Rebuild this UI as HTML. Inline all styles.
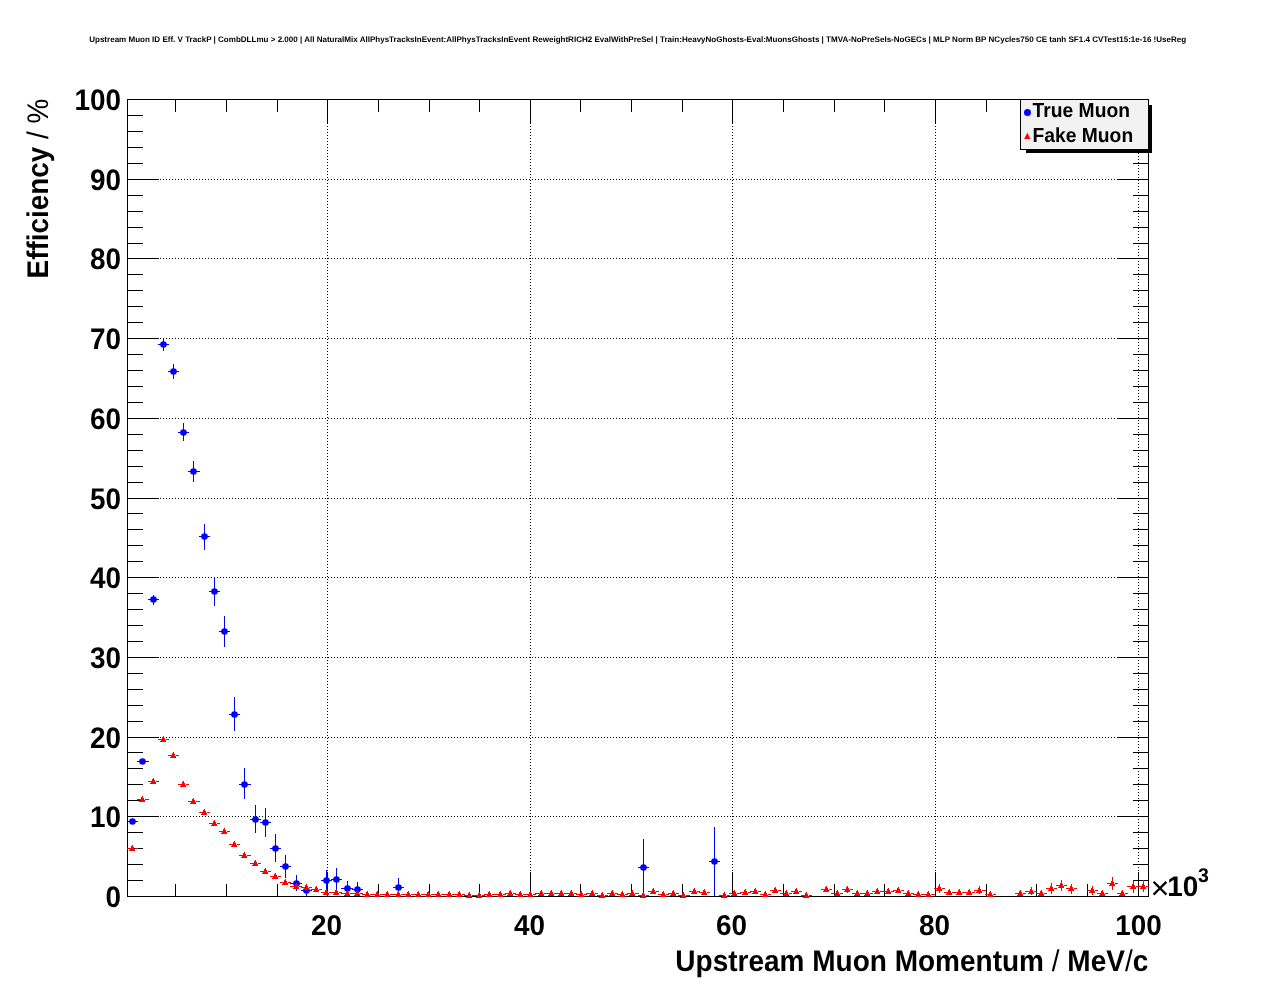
<!DOCTYPE html>
<html><head><meta charset="utf-8"><title>Upstream Muon ID Eff. V TrackP</title>
<style>
html,body{margin:0;padding:0;background:#fff;}
body{width:1276px;height:996px;overflow:hidden;}
svg{display:block;}
text{font-family:"Liberation Sans",sans-serif;font-weight:bold;fill:#000;text-rendering:geometricPrecision;}
.n{font-weight:normal;}
.px{shape-rendering:crispEdges;}
.gr{stroke:#000;stroke-width:1;stroke-dasharray:1 2;shape-rendering:crispEdges;fill:none;}
</style></head><body>
<svg width="1276" height="996" viewBox="0 0 1276 996">
<rect x="0" y="0" width="1276" height="996" fill="#ffffff"/>
<text x="89.2" y="41.8" font-size="8.05" textLength="1097" lengthAdjust="spacingAndGlyphs">Upstream Muon ID Eff. V TrackP | CombDLLmu &gt; 2.000 | All NaturalMix AllPhysTracksInEvent:AllPhysTracksInEvent ReweightRICH2 EvalWithPreSel | Train:HeavyNoGhosts-Eval:MuonsGhosts | TMVA-NoPreSels-NoGECs | MLP Norm BP NCycles750 CE tanh SF1.4 CVTest15:1e-16 !UseReg</text>
<path class="gr" d="M327.5 99V897M530.5 99V897M732.5 99V897M935.5 99V897M1138.5 99V897M127 816.5H1149M127 737.5H1149M127 657.5H1149M127 577.5H1149M127 498.5H1149M127 418.5H1149M127 338.5H1149M127 258.5H1149M127 179.5H1149"/>
<path class="px" fill="#0000ff" d="M127 821h11v1h-11zM137 761h12v1h-12zM148 599h11v1h-11zM153 595h1v10h-1zM158 344h11v1h-11zM163 338h1v13h-1zM168 371h11v1h-11zM173 364h1v15h-1zM178 432h11v1h-11zM183 423h1v18h-1zM188 471h12v1h-12zM193 461h1v21h-1zM199 536h11v1h-11zM204 524h1v26h-1zM209 591h11v1h-11zM214 577h1v29h-1zM219 631h11v1h-11zM224 616h1v31h-1zM229 714h11v1h-11zM234 697h1v34h-1zM239 784h12v1h-12zM244 768h1v31h-1zM250 819h11v1h-11zM255 805h1v28h-1zM260 822h11v1h-11zM265 808h1v29h-1zM270 848h11v1h-11zM275 834h1v28h-1zM280 866h11v1h-11zM285 855h1v23h-1zM290 883h12v1h-12zM296 875h1v16h-1zM301 890h11v1h-11zM306 885h1v12h-1zM321 880h11v1h-11zM326 870h1v23h-1zM331 879h11v1h-11zM336 868h1v25h-1zM341 888h12v1h-12zM347 881h1v14h-1zM352 889h11v1h-11zM357 882h1v13h-1zM393 887h11v1h-11zM398 878h1v17h-1zM638 867h11v1h-11zM643 839h1v57h-1zM709 861h11v1h-11zM714 827h1v70h-1z"/>
<g fill="#0000ff"><circle cx="132.5" cy="821.5" r="3.3"/><circle cx="142.5" cy="761.5" r="3.3"/><circle cx="153.5" cy="599.5" r="3.3"/><circle cx="163.5" cy="344.5" r="3.3"/><circle cx="173.5" cy="371.5" r="3.3"/><circle cx="183.5" cy="432.5" r="3.3"/><circle cx="193.5" cy="471.5" r="3.3"/><circle cx="204.5" cy="536.5" r="3.3"/><circle cx="214.5" cy="591.5" r="3.3"/><circle cx="224.5" cy="631.5" r="3.3"/><circle cx="234.5" cy="714.5" r="3.3"/><circle cx="244.5" cy="784.5" r="3.3"/><circle cx="255.5" cy="819.5" r="3.3"/><circle cx="265.5" cy="822.5" r="3.3"/><circle cx="275.5" cy="848.5" r="3.3"/><circle cx="285.5" cy="866.5" r="3.3"/><circle cx="296.5" cy="883.5" r="3.3"/><circle cx="306.5" cy="890.5" r="3.3"/><circle cx="326.5" cy="880.5" r="3.3"/><circle cx="336.5" cy="879.5" r="3.3"/><circle cx="347.5" cy="888.5" r="3.3"/><circle cx="357.5" cy="889.5" r="3.3"/><circle cx="398.5" cy="887.5" r="3.3"/><circle cx="643.5" cy="867.5" r="3.3"/><circle cx="714.5" cy="861.5" r="3.3"/></g>
<path class="px" fill="#000" d="M127 99h1022v1h-1022zM127 896h1022v1h-1022zM127 99h1v798h-1zM1148 99h1v798h-1zM175 884h1v13h-1zM175 99h1v13h-1zM226 884h1v13h-1zM226 99h1v13h-1zM277 884h1v13h-1zM277 99h1v13h-1zM327 872h1v25h-1zM327 99h1v25h-1zM378 884h1v13h-1zM378 99h1v13h-1zM429 884h1v13h-1zM429 99h1v13h-1zM479 884h1v13h-1zM479 99h1v13h-1zM530 872h1v25h-1zM530 99h1v25h-1zM580 884h1v13h-1zM580 99h1v13h-1zM631 884h1v13h-1zM631 99h1v13h-1zM682 884h1v13h-1zM682 99h1v13h-1zM732 872h1v25h-1zM732 99h1v25h-1zM783 884h1v13h-1zM783 99h1v13h-1zM834 884h1v13h-1zM834 99h1v13h-1zM884 884h1v13h-1zM884 99h1v13h-1zM935 872h1v25h-1zM935 99h1v25h-1zM986 884h1v13h-1zM986 99h1v13h-1zM1036 884h1v13h-1zM1036 99h1v13h-1zM1087 884h1v13h-1zM1087 99h1v13h-1zM1138 872h1v25h-1zM1138 99h1v25h-1zM127 880h16v1h-16zM1133 880h16v1h-16zM127 864h16v1h-16zM1133 864h16v1h-16zM127 848h16v1h-16zM1133 848h16v1h-16zM127 832h16v1h-16zM1133 832h16v1h-16zM127 816h32v1h-32zM1117 816h32v1h-32zM127 800h16v1h-16zM1133 800h16v1h-16zM127 784h16v1h-16zM1133 784h16v1h-16zM127 768h16v1h-16zM1133 768h16v1h-16zM127 752h16v1h-16zM1133 752h16v1h-16zM127 737h32v1h-32zM1117 737h32v1h-32zM127 721h16v1h-16zM1133 721h16v1h-16zM127 705h16v1h-16zM1133 705h16v1h-16zM127 689h16v1h-16zM1133 689h16v1h-16zM127 673h16v1h-16zM1133 673h16v1h-16zM127 657h32v1h-32zM1117 657h32v1h-32zM127 641h16v1h-16zM1133 641h16v1h-16zM127 625h16v1h-16zM1133 625h16v1h-16zM127 609h16v1h-16zM1133 609h16v1h-16zM127 593h16v1h-16zM1133 593h16v1h-16zM127 577h32v1h-32zM1117 577h32v1h-32zM127 561h16v1h-16zM1133 561h16v1h-16zM127 545h16v1h-16zM1133 545h16v1h-16zM127 529h16v1h-16zM1133 529h16v1h-16zM127 513h16v1h-16zM1133 513h16v1h-16zM127 498h32v1h-32zM1117 498h32v1h-32zM127 482h16v1h-16zM1133 482h16v1h-16zM127 466h16v1h-16zM1133 466h16v1h-16zM127 450h16v1h-16zM1133 450h16v1h-16zM127 434h16v1h-16zM1133 434h16v1h-16zM127 418h32v1h-32zM1117 418h32v1h-32zM127 402h16v1h-16zM1133 402h16v1h-16zM127 386h16v1h-16zM1133 386h16v1h-16zM127 370h16v1h-16zM1133 370h16v1h-16zM127 354h16v1h-16zM1133 354h16v1h-16zM127 338h32v1h-32zM1117 338h32v1h-32zM127 322h16v1h-16zM1133 322h16v1h-16zM127 306h16v1h-16zM1133 306h16v1h-16zM127 290h16v1h-16zM1133 290h16v1h-16zM127 274h16v1h-16zM1133 274h16v1h-16zM127 258h32v1h-32zM1117 258h32v1h-32zM127 243h16v1h-16zM1133 243h16v1h-16zM127 227h16v1h-16zM1133 227h16v1h-16zM127 211h16v1h-16zM1133 211h16v1h-16zM127 195h16v1h-16zM1133 195h16v1h-16zM127 179h32v1h-32zM1117 179h32v1h-32zM127 163h16v1h-16zM1133 163h16v1h-16zM127 147h16v1h-16zM1133 147h16v1h-16zM127 131h16v1h-16zM1133 131h16v1h-16zM127 115h16v1h-16zM1133 115h16v1h-16z"/>
<path class="px" fill="#ff0000" d="M127 848h7v1h-7zM135 848h3v1h-3zM132 845h1v1h-1zM131 846h2v1h-2zM131 847h3v1h-3zM130 849h5v1h-5zM129 850h6v1h-6zM137 799h7v1h-7zM145 799h4v1h-4zM142 796h1v1h-1zM141 797h2v1h-2zM141 798h3v1h-3zM140 800h5v1h-5zM139 801h6v1h-6zM148 781h7v1h-7zM156 781h3v1h-3zM153 778h1v1h-1zM152 779h2v1h-2zM152 780h3v1h-3zM151 782h5v1h-5zM150 783h6v1h-6zM158 739h7v1h-7zM166 739h3v1h-3zM163 736h1v1h-1zM162 737h2v1h-2zM162 738h3v1h-3zM161 740h5v1h-5zM160 741h6v1h-6zM168 755h7v1h-7zM176 755h3v1h-3zM173 752h1v1h-1zM172 753h2v1h-2zM172 754h3v1h-3zM171 756h5v1h-5zM170 757h6v1h-6zM178 784h7v1h-7zM186 784h3v1h-3zM183 781h1v1h-1zM182 782h2v1h-2zM182 783h3v1h-3zM181 785h5v1h-5zM180 786h6v1h-6zM188 801h7v1h-7zM196 801h4v1h-4zM193 798h1v1h-1zM192 799h2v1h-2zM192 800h3v1h-3zM191 802h5v1h-5zM190 803h6v1h-6zM199 812h7v1h-7zM207 812h3v1h-3zM204 809h1v1h-1zM203 810h2v1h-2zM203 811h3v1h-3zM202 813h5v1h-5zM201 814h6v1h-6zM209 823h7v1h-7zM217 823h3v1h-3zM214 820h1v1h-1zM213 821h2v1h-2zM213 822h3v1h-3zM212 824h5v1h-5zM211 825h6v1h-6zM219 831h7v1h-7zM227 831h3v1h-3zM224 828h1v1h-1zM223 829h2v1h-2zM223 830h3v1h-3zM222 832h5v1h-5zM221 833h6v1h-6zM229 844h7v1h-7zM237 844h3v1h-3zM234 841h1v1h-1zM233 842h2v1h-2zM233 843h3v1h-3zM232 845h5v1h-5zM231 846h6v1h-6zM239 855h7v1h-7zM247 855h4v1h-4zM244 852h1v1h-1zM243 853h2v1h-2zM243 854h3v1h-3zM242 856h5v1h-5zM241 857h6v1h-6zM250 863h7v1h-7zM258 863h3v1h-3zM255 860h1v1h-1zM254 861h2v1h-2zM254 862h3v1h-3zM253 864h5v1h-5zM252 865h6v1h-6zM260 871h7v1h-7zM268 871h3v1h-3zM265 868h1v1h-1zM264 869h2v1h-2zM264 870h3v1h-3zM263 872h5v1h-5zM262 873h6v1h-6zM270 876h7v1h-7zM278 876h3v1h-3zM275 873h1v1h-1zM274 874h2v1h-2zM274 875h3v1h-3zM273 877h5v1h-5zM272 878h6v1h-6zM280 882h7v1h-7zM288 882h3v1h-3zM285 879h1v1h-1zM284 880h2v1h-2zM284 881h3v1h-3zM283 883h5v1h-5zM282 884h6v1h-6zM290 886h8v1h-8zM299 886h3v1h-3zM296 883h1v1h-1zM295 884h2v1h-2zM295 885h3v1h-3zM294 887h5v1h-5zM293 888h6v1h-6zM301 887h7v1h-7zM309 887h3v1h-3zM306 884h1v1h-1zM305 885h2v1h-2zM305 886h3v1h-3zM304 888h5v1h-5zM303 889h6v1h-6zM311 889h7v1h-7zM319 889h3v1h-3zM316 886h1v1h-1zM315 887h2v1h-2zM315 888h3v1h-3zM314 890h5v1h-5zM313 891h6v1h-6zM321 892h7v1h-7zM329 892h3v1h-3zM326 889h1v1h-1zM325 890h2v1h-2zM325 891h3v1h-3zM324 893h5v1h-5zM323 894h6v1h-6zM331 892h7v1h-7zM339 892h3v1h-3zM336 889h1v1h-1zM335 890h2v1h-2zM335 891h3v1h-3zM334 893h5v1h-5zM333 894h6v1h-6zM341 893h8v1h-8zM350 893h3v1h-3zM347 890h1v1h-1zM346 891h2v1h-2zM346 892h3v1h-3zM345 894h5v1h-5zM344 895h6v1h-6zM352 893h7v1h-7zM360 893h3v1h-3zM357 890h1v1h-1zM356 891h2v1h-2zM356 892h3v1h-3zM355 894h5v1h-5zM354 895h6v1h-6zM362 894h7v1h-7zM370 894h3v1h-3zM367 891h1v1h-1zM366 892h2v1h-2zM366 893h3v1h-3zM365 895h5v1h-5zM364 896h6v1h-6zM372 894h7v1h-7zM380 894h3v1h-3zM377 891h1v1h-1zM376 892h2v1h-2zM376 893h3v1h-3zM375 895h5v1h-5zM374 896h6v1h-6zM382 894h7v1h-7zM390 894h4v1h-4zM387 891h1v1h-1zM386 892h2v1h-2zM386 893h3v1h-3zM385 895h5v1h-5zM384 896h6v1h-6zM393 894h7v1h-7zM401 894h3v1h-3zM398 891h1v1h-1zM397 892h2v1h-2zM397 893h3v1h-3zM396 895h5v1h-5zM395 896h6v1h-6zM403 894h7v1h-7zM411 894h3v1h-3zM408 891h1v1h-1zM407 892h2v1h-2zM407 893h3v1h-3zM406 895h5v1h-5zM405 896h6v1h-6zM413 894h7v1h-7zM421 894h3v1h-3zM418 891h1v1h-1zM417 892h2v1h-2zM417 893h3v1h-3zM416 895h5v1h-5zM415 896h6v1h-6zM423 894h7v1h-7zM431 894h3v1h-3zM428 891h1v1h-1zM427 892h2v1h-2zM427 893h3v1h-3zM426 895h5v1h-5zM425 896h6v1h-6zM433 894h7v1h-7zM441 894h4v1h-4zM438 891h1v1h-1zM437 892h2v1h-2zM437 893h3v1h-3zM436 895h5v1h-5zM435 896h6v1h-6zM444 894h7v1h-7zM452 894h3v1h-3zM449 891h1v1h-1zM448 892h2v1h-2zM448 893h3v1h-3zM447 895h5v1h-5zM446 896h6v1h-6zM454 894h7v1h-7zM462 894h3v1h-3zM459 891h1v1h-1zM458 892h2v1h-2zM458 893h3v1h-3zM457 895h5v1h-5zM456 896h6v1h-6zM464 895h7v1h-7zM472 895h3v1h-3zM469 892h1v1h-1zM468 893h2v1h-2zM468 894h3v1h-3zM467 896h5v1h-5zM466 897h6v1h-6zM474 895h7v1h-7zM482 895h3v1h-3zM479 892h1v1h-1zM478 893h2v1h-2zM478 894h3v1h-3zM477 896h5v1h-5zM476 897h6v1h-6zM484 894h7v1h-7zM492 894h4v1h-4zM489 891h1v1h-1zM488 892h2v1h-2zM488 893h3v1h-3zM487 895h5v1h-5zM486 896h6v1h-6zM495 894h7v1h-7zM503 894h3v1h-3zM500 891h1v1h-1zM499 892h2v1h-2zM499 893h3v1h-3zM498 895h5v1h-5zM497 896h6v1h-6zM505 893h7v1h-7zM513 893h3v1h-3zM510 890h1v1h-1zM509 891h2v1h-2zM509 892h3v1h-3zM508 894h5v1h-5zM507 895h6v1h-6zM515 894h7v1h-7zM523 894h3v1h-3zM520 891h1v1h-1zM519 892h2v1h-2zM519 893h3v1h-3zM518 895h5v1h-5zM517 896h6v1h-6zM525 894h7v1h-7zM533 894h3v1h-3zM530 891h1v1h-1zM529 892h2v1h-2zM529 893h3v1h-3zM528 895h5v1h-5zM527 896h6v1h-6zM535 893h8v1h-8zM544 893h3v1h-3zM541 890h1v1h-1zM540 891h2v1h-2zM540 892h3v1h-3zM539 894h5v1h-5zM538 895h6v1h-6zM546 893h7v1h-7zM554 893h3v1h-3zM551 890h1v1h-1zM550 891h2v1h-2zM550 892h3v1h-3zM549 894h5v1h-5zM548 895h6v1h-6zM556 893h7v1h-7zM564 893h3v1h-3zM561 890h1v1h-1zM560 891h2v1h-2zM560 892h3v1h-3zM559 894h5v1h-5zM558 895h6v1h-6zM566 893h7v1h-7zM574 893h3v1h-3zM571 890h1v1h-1zM570 891h2v1h-2zM570 892h3v1h-3zM569 894h5v1h-5zM568 895h6v1h-6zM576 894h7v1h-7zM584 894h3v1h-3zM581 891h1v1h-1zM580 892h2v1h-2zM580 893h3v1h-3zM579 895h5v1h-5zM578 896h6v1h-6zM586 893h8v1h-8zM595 893h3v1h-3zM592 890h1v1h-1zM591 891h2v1h-2zM591 892h3v1h-3zM590 894h5v1h-5zM589 895h6v1h-6zM597 895h7v1h-7zM605 895h3v1h-3zM602 892h1v1h-1zM601 893h2v1h-2zM601 894h3v1h-3zM600 896h5v1h-5zM599 897h6v1h-6zM607 893h7v1h-7zM615 893h3v1h-3zM612 890h1v1h-1zM611 891h2v1h-2zM611 892h3v1h-3zM610 894h5v1h-5zM609 895h6v1h-6zM617 894h7v1h-7zM625 894h3v1h-3zM622 891h1v1h-1zM621 892h2v1h-2zM621 893h3v1h-3zM620 895h5v1h-5zM619 896h6v1h-6zM627 893h7v1h-7zM635 893h4v1h-4zM632 890h1v1h-1zM631 891h2v1h-2zM631 892h3v1h-3zM630 894h5v1h-5zM629 895h6v1h-6zM638 895h7v1h-7zM646 895h3v1h-3zM643 892h1v1h-1zM642 893h2v1h-2zM642 894h3v1h-3zM641 896h5v1h-5zM640 897h6v1h-6zM648 891h7v1h-7zM656 891h3v1h-3zM653 888h1v1h-1zM652 889h2v1h-2zM652 890h3v1h-3zM651 892h5v1h-5zM650 893h6v1h-6zM658 894h7v1h-7zM666 894h3v1h-3zM663 891h1v1h-1zM662 892h2v1h-2zM662 893h3v1h-3zM661 895h5v1h-5zM660 896h6v1h-6zM668 893h7v1h-7zM676 893h3v1h-3zM673 890h1v1h-1zM672 891h2v1h-2zM672 892h3v1h-3zM671 894h5v1h-5zM670 895h6v1h-6zM678 895h7v1h-7zM686 895h4v1h-4zM683 892h1v1h-1zM682 893h2v1h-2zM682 894h3v1h-3zM681 896h5v1h-5zM680 897h6v1h-6zM689 891h7v1h-7zM697 891h3v1h-3zM694 888h1v1h-1zM693 889h2v1h-2zM693 890h3v1h-3zM692 892h5v1h-5zM691 893h6v1h-6zM699 892h7v1h-7zM707 892h3v1h-3zM704 889h1v1h-1zM703 890h2v1h-2zM703 891h3v1h-3zM702 893h5v1h-5zM701 894h6v1h-6zM719 895h7v1h-7zM727 895h3v1h-3zM724 892h1v1h-1zM723 893h2v1h-2zM723 894h3v1h-3zM722 896h5v1h-5zM721 897h6v1h-6zM729 893h7v1h-7zM737 893h4v1h-4zM734 890h1v1h-1zM733 891h2v1h-2zM733 892h3v1h-3zM732 894h5v1h-5zM731 895h6v1h-6zM740 892h7v1h-7zM748 892h3v1h-3zM745 889h1v1h-1zM744 890h2v1h-2zM744 891h3v1h-3zM743 893h5v1h-5zM742 894h6v1h-6zM750 891h7v1h-7zM758 891h3v1h-3zM755 888h1v1h-1zM754 889h2v1h-2zM754 890h3v1h-3zM753 892h5v1h-5zM752 893h6v1h-6zM760 894h7v1h-7zM768 894h3v1h-3zM765 891h1v1h-1zM764 892h2v1h-2zM764 893h3v1h-3zM763 895h5v1h-5zM762 896h6v1h-6zM770 890h7v1h-7zM778 890h3v1h-3zM775 887h1v1h-1zM774 888h2v1h-2zM774 889h3v1h-3zM773 891h5v1h-5zM772 892h6v1h-6zM780 893h8v1h-8zM789 893h3v1h-3zM786 890h1v1h-1zM785 891h2v1h-2zM785 892h3v1h-3zM784 894h5v1h-5zM783 895h6v1h-6zM791 891h7v1h-7zM799 891h3v1h-3zM796 888h1v1h-1zM795 889h2v1h-2zM795 890h3v1h-3zM794 892h5v1h-5zM793 893h6v1h-6zM801 895h7v1h-7zM809 895h3v1h-3zM806 892h1v1h-1zM805 893h2v1h-2zM805 894h3v1h-3zM804 896h5v1h-5zM803 897h6v1h-6zM821 889h7v1h-7zM829 889h3v1h-3zM826 886h1v1h-1zM825 887h2v1h-2zM825 888h3v1h-3zM824 890h5v1h-5zM823 891h6v1h-6zM831 893h8v1h-8zM840 893h3v1h-3zM837 890h1v1h-1zM836 891h2v1h-2zM836 892h3v1h-3zM835 894h5v1h-5zM834 895h6v1h-6zM842 889h7v1h-7zM850 889h3v1h-3zM847 886h1v7h-1zM847 886h1v1h-1zM846 887h2v1h-2zM846 888h3v1h-3zM845 890h5v1h-5zM844 891h6v1h-6zM852 893h7v1h-7zM860 893h3v1h-3zM857 890h1v1h-1zM856 891h2v1h-2zM856 892h3v1h-3zM855 894h5v1h-5zM854 895h6v1h-6zM862 893h7v1h-7zM870 893h3v1h-3zM867 890h1v1h-1zM866 891h2v1h-2zM866 892h3v1h-3zM865 894h5v1h-5zM864 895h6v1h-6zM872 891h7v1h-7zM880 891h3v1h-3zM877 888h1v1h-1zM876 889h2v1h-2zM876 890h3v1h-3zM875 892h5v1h-5zM874 893h6v1h-6zM882 891h8v1h-8zM891 891h3v1h-3zM888 888h1v1h-1zM887 889h2v1h-2zM887 890h3v1h-3zM886 892h5v1h-5zM885 893h6v1h-6zM893 890h7v1h-7zM901 890h3v1h-3zM898 887h1v1h-1zM897 888h2v1h-2zM897 889h3v1h-3zM896 891h5v1h-5zM895 892h6v1h-6zM903 893h7v1h-7zM911 893h3v1h-3zM908 890h1v1h-1zM907 891h2v1h-2zM907 892h3v1h-3zM906 894h5v1h-5zM905 895h6v1h-6zM913 894h7v1h-7zM921 894h3v1h-3zM918 891h1v1h-1zM917 892h2v1h-2zM917 893h3v1h-3zM916 895h5v1h-5zM915 896h6v1h-6zM923 894h7v1h-7zM931 894h4v1h-4zM928 891h1v1h-1zM927 892h2v1h-2zM927 893h3v1h-3zM926 895h5v1h-5zM925 896h6v1h-6zM934 888h7v1h-7zM942 888h3v1h-3zM939 884h1v9h-1zM939 885h1v1h-1zM938 886h2v1h-2zM938 887h3v1h-3zM937 889h5v1h-5zM936 890h6v1h-6zM944 892h7v1h-7zM952 892h3v1h-3zM949 889h1v1h-1zM948 890h2v1h-2zM948 891h3v1h-3zM947 893h5v1h-5zM946 894h6v1h-6zM954 892h7v1h-7zM962 892h3v1h-3zM959 889h1v1h-1zM958 890h2v1h-2zM958 891h3v1h-3zM957 893h5v1h-5zM956 894h6v1h-6zM964 892h7v1h-7zM972 892h3v1h-3zM969 889h1v1h-1zM968 890h2v1h-2zM968 891h3v1h-3zM967 893h5v1h-5zM966 894h6v1h-6zM974 890h7v1h-7zM982 890h4v1h-4zM979 886h1v8h-1zM979 887h1v1h-1zM978 888h2v1h-2zM978 889h3v1h-3zM977 891h5v1h-5zM976 892h6v1h-6zM985 894h7v1h-7zM993 894h3v1h-3zM990 891h1v1h-1zM989 892h2v1h-2zM989 893h3v1h-3zM988 895h5v1h-5zM987 896h6v1h-6zM1015 893h7v1h-7zM1023 893h3v1h-3zM1020 890h1v1h-1zM1019 891h2v1h-2zM1019 892h3v1h-3zM1018 894h5v1h-5zM1017 895h6v1h-6zM1025 891h8v1h-8zM1034 891h3v1h-3zM1031 887h1v8h-1zM1031 888h1v1h-1zM1030 889h2v1h-2zM1030 890h3v1h-3zM1029 892h5v1h-5zM1028 893h6v1h-6zM1036 893h7v1h-7zM1044 893h3v1h-3zM1041 890h1v1h-1zM1040 891h2v1h-2zM1040 892h3v1h-3zM1039 894h5v1h-5zM1038 895h6v1h-6zM1046 888h7v1h-7zM1054 888h3v1h-3zM1051 883h1v11h-1zM1051 885h1v1h-1zM1050 886h2v1h-2zM1050 887h3v1h-3zM1049 889h5v1h-5zM1048 890h6v1h-6zM1056 885h7v1h-7zM1064 885h3v1h-3zM1061 880h1v11h-1zM1061 882h1v1h-1zM1060 883h2v1h-2zM1060 884h3v1h-3zM1059 886h5v1h-5zM1058 887h6v1h-6zM1066 888h7v1h-7zM1074 888h3v1h-3zM1071 884h1v10h-1zM1071 885h1v1h-1zM1070 886h2v1h-2zM1070 887h3v1h-3zM1069 889h5v1h-5zM1068 890h6v1h-6zM1087 890h7v1h-7zM1095 890h3v1h-3zM1092 886h1v9h-1zM1092 887h1v1h-1zM1091 888h2v1h-2zM1091 889h3v1h-3zM1090 891h5v1h-5zM1089 892h6v1h-6zM1097 893h7v1h-7zM1105 893h3v1h-3zM1102 890h1v1h-1zM1101 891h2v1h-2zM1101 892h3v1h-3zM1100 894h5v1h-5zM1099 895h6v1h-6zM1107 883h7v1h-7zM1115 883h3v1h-3zM1112 877h1v13h-1zM1112 880h1v1h-1zM1111 881h2v1h-2zM1111 882h3v1h-3zM1110 884h5v1h-5zM1109 885h6v1h-6zM1117 893h7v1h-7zM1125 893h3v1h-3zM1122 890h1v1h-1zM1121 891h2v1h-2zM1121 892h3v1h-3zM1120 894h5v1h-5zM1119 895h6v1h-6zM1127 886h8v1h-8zM1136 886h3v1h-3zM1133 881h1v12h-1zM1133 883h1v1h-1zM1132 884h2v1h-2zM1132 885h3v1h-3zM1131 887h5v1h-5zM1130 888h6v1h-6zM1138 886h7v1h-7zM1146 886h3v1h-3zM1143 880h1v12h-1zM1143 883h1v1h-1zM1142 884h2v1h-2zM1142 885h3v1h-3zM1141 887h5v1h-5zM1140 888h6v1h-6z"/>
<text transform="translate(121.1 907.4) scale(1 1.065)" font-size="27.90" text-anchor="end">0</text>
<text transform="translate(121.1 827.4) scale(1 1.065)" font-size="27.90" text-anchor="end">10</text>
<text transform="translate(121.1 748.4) scale(1 1.065)" font-size="27.90" text-anchor="end">20</text>
<text transform="translate(121.1 668.4) scale(1 1.065)" font-size="27.90" text-anchor="end">30</text>
<text transform="translate(121.1 588.4) scale(1 1.065)" font-size="27.90" text-anchor="end">40</text>
<text transform="translate(121.1 509.4) scale(1 1.065)" font-size="27.90" text-anchor="end">50</text>
<text transform="translate(121.1 429.4) scale(1 1.065)" font-size="27.90" text-anchor="end">60</text>
<text transform="translate(121.1 349.4) scale(1 1.065)" font-size="27.90" text-anchor="end">70</text>
<text transform="translate(121.1 269.4) scale(1 1.065)" font-size="27.90" text-anchor="end">80</text>
<text transform="translate(121.1 190.3) scale(1 1.065)" font-size="27.90" text-anchor="end">90</text>
<text transform="translate(121.1 110.3) scale(1 1.065)" font-size="27.90" text-anchor="end">100</text>
<text transform="translate(326.6 935.2) scale(1 1.030)" font-size="27.90" text-anchor="middle">20</text>
<text transform="translate(529.6 935.2) scale(1 1.030)" font-size="27.90" text-anchor="middle">40</text>
<text transform="translate(731.6 935.2) scale(1 1.030)" font-size="27.90" text-anchor="middle">60</text>
<text transform="translate(934.6 935.2) scale(1 1.030)" font-size="27.90" text-anchor="middle">80</text>
<text transform="translate(1138.6 935.2) scale(1 1.030)" font-size="27.90" text-anchor="middle">100</text>
<text x="1150.6" y="899.3" font-size="32.5" style="font-weight:normal">×</text>
<text transform="translate(1167.3 896.2) scale(1 1.020)" font-size="27.90">10</text>
<text transform="translate(1197.9 882.0) scale(1 1.020)" font-size="19.50">3</text>
<text transform="translate(1148.3 971.0) scale(1 1.070)" font-size="28.00" text-anchor="end">Upstream Muon Momentum <tspan class="n">/</tspan> MeV<tspan class="n">/</tspan>c</text>
<text transform="translate(48.0 98.6) rotate(-90) scale(1 1.070)" font-size="27.90" text-anchor="end">Efficiency <tspan class="n">/</tspan> <tspan class="n">%</tspan></text>
<rect class="px" x="1026" y="105" width="126" height="48" fill="#000"/>
<rect class="px" x="1020.5" y="99.5" width="128" height="50" fill="#f2f2f2" stroke="#000" stroke-width="1"/>
<circle cx="1027.5" cy="112.4" r="3.5" fill="#0000ff"/>
<path fill="#ff0000" d="M1027.3 132.7l3.2 6.3h-6.4z"/>
<text transform="translate(1032.6 116.9) scale(1 1.050)" font-size="19.25">True Muon</text>
<text transform="translate(1032.6 142.0) scale(1 1.050)" font-size="19.25">Fake Muon</text>
</svg>
</body></html>
